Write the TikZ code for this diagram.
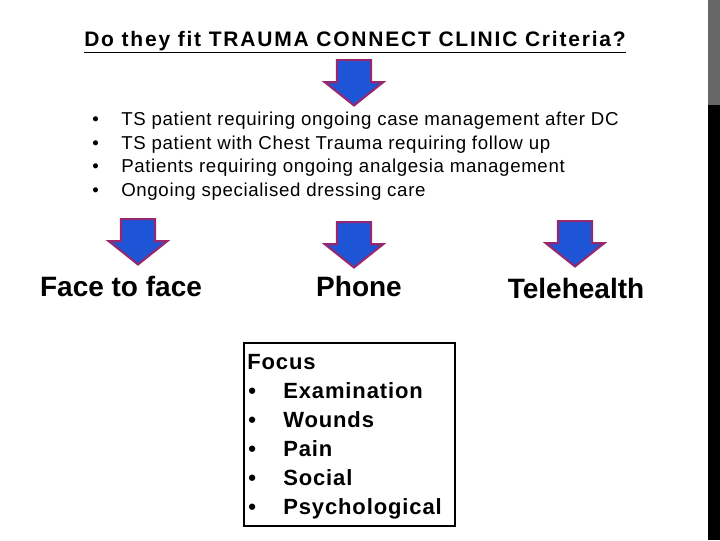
\documentclass[tikz,border=0pt]{standalone}
\usepackage{fontspec}
\setmainfont{Liberation Sans}
\newfontfamily\titlefont[LetterSpace=8.5]{Liberation Sans}
\newfontfamily\listfont[LetterSpace=3.5]{Liberation Sans}
\newfontfamily\boxfont[LetterSpace=4]{Liberation Sans}
\usepackage{xcolor}
\usetikzlibrary{shapes.arrows, positioning}

\definecolor{arrowblue}{RGB}{30,85,215}
\definecolor{arrowrim}{RGB}{150,40,110}
\definecolor{bargray}{RGB}{102,102,102}

\tikzset{
  downarrow/.style={single arrow, draw=arrowrim, fill=arrowblue, line width=1.6pt,
    rotate=-90, anchor=tail, inner xsep=0pt, inner ysep=12pt, minimum height=34pt,
    single arrow head extend=9pt, single arrow tip angle=103},
  listtext/.style={anchor=base west, inner sep=0pt, font=\listfont\fontsize{14pt}{17pt}\selectfont},
  modetext/.style={anchor=base, inner sep=0pt, font=\fontsize{21pt}{25pt}\selectfont\bfseries},
  focustext/.style={anchor=base west, inner sep=0pt, font=\boxfont\fontsize{16.5pt}{20pt}\selectfont\bfseries}
}

\begin{document}
\begin{tikzpicture}[x=0.75pt, y=-0.75pt]
    \useasboundingbox (0,0) rectangle (720,540);
    % bar on the right
    \fill[bargray] (708,0) rectangle (720,105);
    \fill[black] (708,105) rectangle (720,540);

    \node[anchor=base, inner sep=0pt, font=\titlefont\fontsize{15.75pt}{18pt}\selectfont\bfseries] (title) at (355,46)
        {\underline{Do they fit TRAUMA CONNECT CLINIC Criteria?}};
    \node[downarrow] (a0) at (354,59) {};

    % criteria
    \node[listtext] (b1) at (92,125) {•};
    \node[listtext] (c1) at (121,125) {TS patient requiring ongoing case management after DC};
    \node[listtext] (b2) at (92,149) {•};
    \node[listtext] (c2) at (121,149) {TS patient with Chest Trauma requiring follow up};
    \node[listtext] (b3) at (92,172) {•};
    \node[listtext] (c3) at (121,172) {Patients requiring ongoing analgesia management};
    \node[listtext] (b4) at (92,196) {•};
    \node[listtext] (c4) at (121,196) {Ongoing specialised dressing care};

    \node[downarrow] (a1) at (138,218) {};
    \node[downarrow] (a2) at (354,221) {};
    \node[downarrow] (a3) at (575,220) {};

    \node[modetext] (face) at (121,296) {Face to face};
    \node[modetext] (phone) at (359,296) {Phone};
    \node[modetext] (tele) at (576,298) {Telehealth};

    % focus box
    \draw[line width=0.8pt] (244,343) rectangle (455,526);
    \node[focustext] (focus) at (247,369) {Focus};
    \node[focustext] (f1b) at (248,398) {•};
    \node[focustext] (f1) at (283,398) {Examination};
    \node[focustext] (f2b) at (248,427) {•};
    \node[focustext] (f2) at (283,427) {Wounds};
    \node[focustext] (f3b) at (248,456) {•};
    \node[focustext] (f3) at (283,456) {Pain};
    \node[focustext] (f4b) at (248,485) {•};
    \node[focustext] (f4) at (283,485) {Social};
    \node[focustext] (f5b) at (248,514) {•};
    \node[focustext] (f5) at (283,514) {Psychological};
\end{tikzpicture}
\end{document}
